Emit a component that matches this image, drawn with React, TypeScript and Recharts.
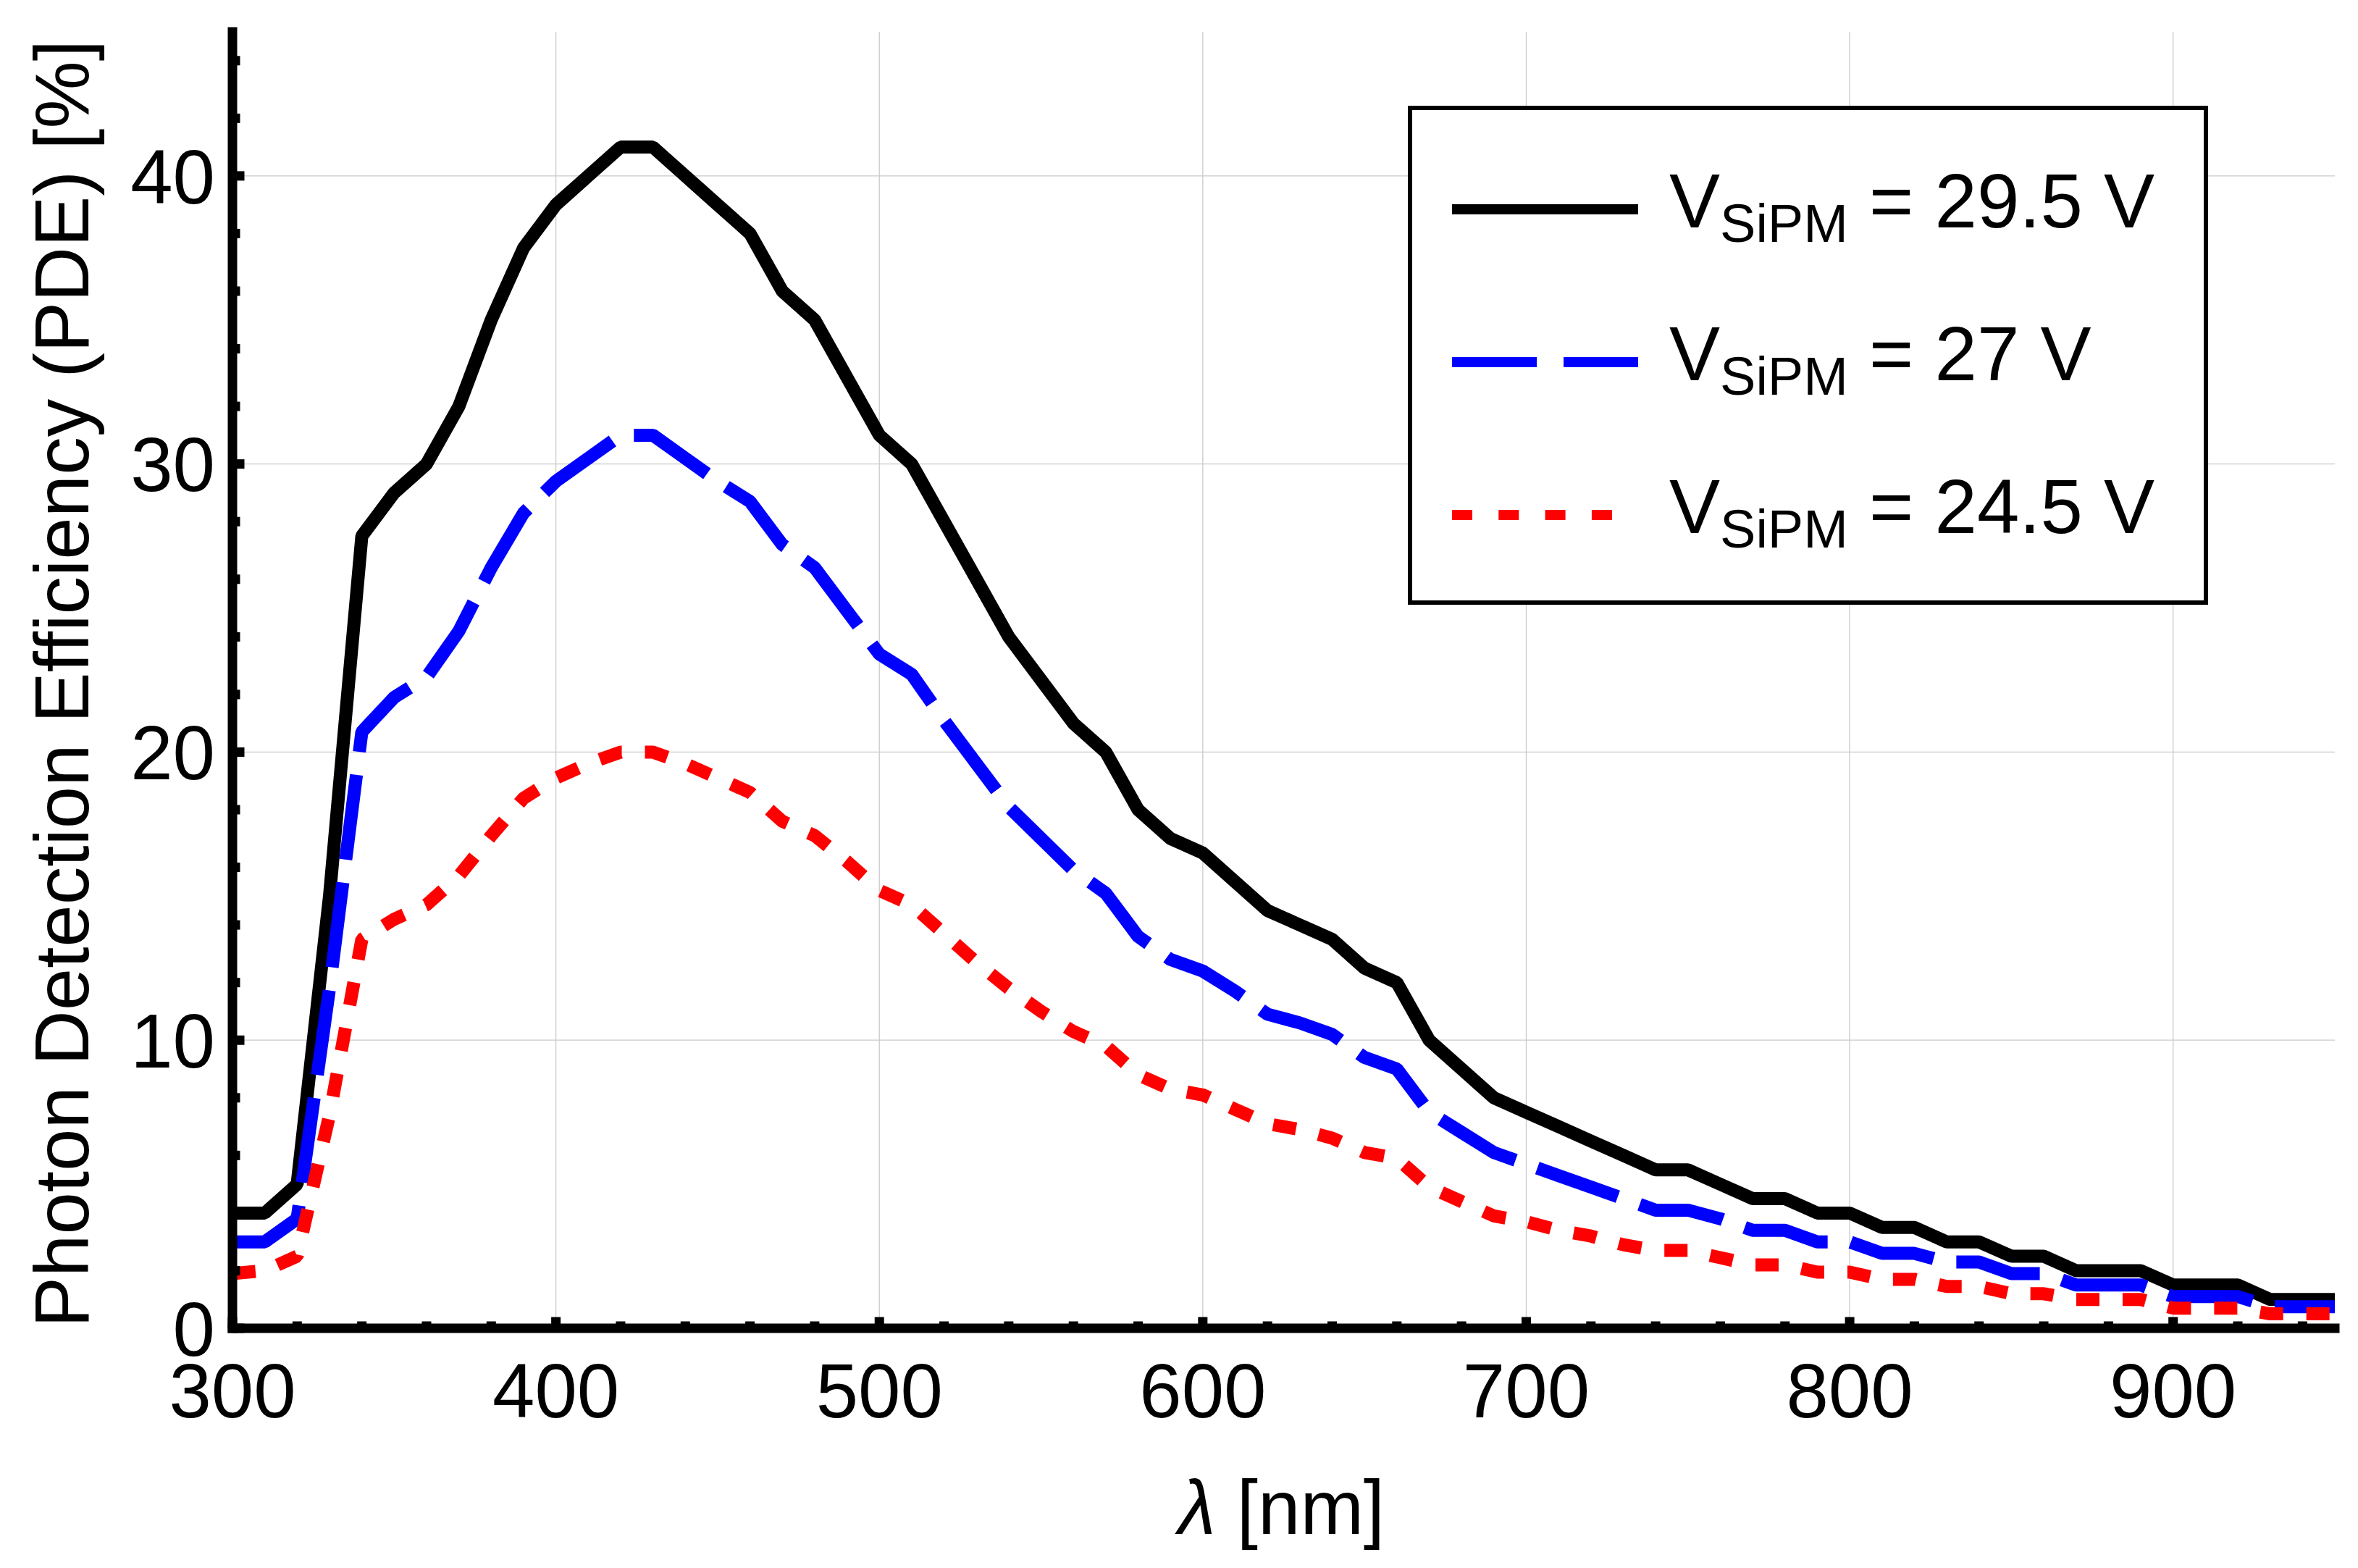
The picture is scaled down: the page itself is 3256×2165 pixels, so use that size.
import React from 'react';
import { LineChart, Line, XAxis, YAxis, ReferenceLine, Legend } from 'recharts';

// ---- data ----
const wavelengths = [
  300, 310, 320, 330, 340, 350, 360, 370, 380, 390,
  400, 410, 420, 430, 440, 450, 460, 470, 480, 490,
  500, 510, 520, 530, 540, 550, 560, 570, 580, 590,
  600, 610, 620, 630, 640, 650, 660, 670, 680, 690,
  700, 710, 720, 730, 740, 750, 760, 770, 780, 790,
  800, 810, 820, 830, 840, 850, 860, 870, 880, 890,
  900, 910, 920, 930, 940, 950,
];

// V_SiPM = 29.5 V
const pde295 = [
  4, 4, 5, 15, 27.5, 29, 30, 32, 35, 37.5,
  39, 40, 41, 41, 40, 39, 38, 36, 35, 33,
  31, 30, 28, 26, 24, 22.5, 21, 20, 18, 17,
  16.5, 15.5, 14.5, 14, 13.5, 12.5, 12, 10, 9, 8,
  7.5, 7, 6.5, 6, 5.5, 5.5, 5, 4.5, 4.5, 4,
  4, 3.5, 3.5, 3, 3, 2.5, 2.5, 2, 2, 2,
  1.5, 1.5, 1.5, 1, 1, 1,
];

// V_SiPM = 27 V
const pde27 = [
  3.0, 3.0, 3.8, 11.8, 20.7, 21.9, 22.6, 24.2, 26.4, 28.3,
  29.4, 30.2, 31.0, 31.0, 30.2, 29.4, 28.7, 27.2, 26.4, 24.9,
  23.4, 22.7, 21.1, 19.6, 18.1, 17.0, 15.9, 15.1, 13.6, 12.8,
  12.4, 11.7, 10.9, 10.6, 10.2, 9.4, 9.0, 7.5, 6.8, 6.1,
  5.7, 5.3, 4.9, 4.5, 4.1, 4.1, 3.8, 3.4, 3.4, 3.0,
  3.0, 2.6, 2.6, 2.3, 2.3, 1.9, 1.9, 1.5, 1.5, 1.5,
  1.1, 1.1, 1.1, 0.75, 0.75, 0.75,
];

// V_SiPM = 24.5 V
const pde245 = [
  1.9, 2.0, 2.5, 7.4, 13.5, 14.2, 14.7, 15.7, 17.1, 18.4,
  19.1, 19.6, 20.0, 20.0, 19.6, 19.1, 18.6, 17.6, 17.1, 16.2,
  15.2, 14.7, 13.7, 12.7, 11.8, 11.0, 10.3, 9.8, 8.8, 8.3,
  8.1, 7.6, 7.1, 6.9, 6.6, 6.1, 5.9, 4.9, 4.4, 3.9,
  3.7, 3.4, 3.2, 2.9, 2.7, 2.7, 2.45, 2.2, 2.2, 1.95,
  1.95, 1.7, 1.7, 1.45, 1.45, 1.2, 1.2, 1.0, 1.0, 1.0,
  0.7, 0.7, 0.7, 0.5, 0.5, 0.5,
];

const seriesKeys = ['v295', 'v27', 'v245'];
const seriesVoltages = ['29.5 V', '27 V', '24.5 V'];

const xTicks = [
  300, 320, 340, 360, 380, 400, 420, 440, 460, 480, 500, 520, 540, 560, 580,
  600, 620, 640, 660, 680, 700, 720, 740, 760, 780, 800, 820, 840, 860, 880,
  900, 920, 940,
];
const xMajorTicks = [300, 400, 500, 600, 700, 800, 900];
const yTicks = [
  0, 2, 4, 6, 8, 10, 12, 14, 16, 18, 20, 22, 24, 26, 28, 30, 32, 34, 36, 38,
  40, 42, 44,
];
const yMajorTicks = [0, 10, 20, 30, 40];
const xGridValues = [400, 500, 600, 700, 800, 900];
const yGridValues = [10, 20, 30, 40];

const data = wavelengths.map((wl, i) => ({
  wl,
  v295: pde295[i],
  v27: pde27[i],
  v245: pde245[i],
}));

// ---- styles ----
const FONT = "'Liberation Sans', Arial, Helvetica, sans-serif";
const FS = 105;
const AXIS_W = 13;
const LINE_W = 18;
const GRID = '#cacaca';

const plotDash: Record<string, string | undefined> = {
  v295: undefined,
  v27: '118 32',
  v245: '32 32',
};
const legendDash: Record<string, string | undefined> = {
  v295: undefined,
  v27: '117 37',
  v245: '28 36.3',
};

function XTick(props: any) {
  const { x, y, payload } = props;
  const v = payload.value;
  const major = xMajorTicks.includes(v);
  const h = major ? 9 : 3;
  return (
    <g>
      <rect x={x - AXIS_W / 2} y={y - AXIS_W / 2 - h} width={AXIS_W} height={h + AXIS_W / 2} fill="#000" />
      {major && (
        <text x={x} y={y + 123} textAnchor="middle" fontSize={FS} fontFamily={FONT} fill="#000">
          {v}
        </text>
      )}
    </g>
  );
}

function YTick(props: any) {
  const { x, y, payload } = props;
  const v = payload.value;
  const major = yMajorTicks.includes(v);
  const w = major ? 10 : 4;
  return (
    <g>
      <rect x={x} y={y - AXIS_W / 2} width={AXIS_W / 2 + w} height={AXIS_W} fill="#000" />
      {major && (
        <text x={x - 24} y={y} dy="0.36em" textAnchor="end" fontSize={FS} fontFamily={FONT} fill="#000">
          {v}
        </text>
      )}
    </g>
  );
}

function YTitle(props: any) {
  const vb = props.viewBox || { x: 0, y: 44, width: 321, height: 1790 };
  const cx = vb.x + 122;
  const cy = vb.y + vb.height / 2 + 5;
  return (
    <text
      x={cx}
      y={cy}
      transform={`rotate(-90 ${cx} ${cy})`}
      textAnchor="middle"
      fontSize={FS}
      fontFamily={FONT}
      fill="#000"
    >
      Photon Detection Efficiency (PDE) [%]
    </text>
  );
}

function XTitle(props: any) {
  const vb = props.viewBox || { x: 321, y: 1834, width: 2903, height: 331 };
  const cx = vb.x + vb.width / 2 - 3;
  const cy = vb.y + 284;
  return (
    <text x={cx} y={cy} textAnchor="middle" fontSize={FS} fontFamily={FONT} fill="#000">
      <tspan fontStyle="italic">λ</tspan>
      <tspan> [nm]</tspan>
    </text>
  );
}

function LegendBox(props: any) {
  const payload = [...(props.payload || [])].sort(
    (a: any, b: any) => seriesKeys.indexOf(a.dataKey) - seriesKeys.indexOf(b.dataKey),
  );
  return (
    <div
      style={{
        width: 1105,
        height: 689,
        border: '6px solid #000',
        boxSizing: 'border-box',
        background: '#fff',
        position: 'relative',
      }}
    >
      <svg width={1093} height={677} style={{ position: 'absolute', left: 0, top: 0 }}>
        {payload.map((entry: any, i: number) => {
          const cy = 137 + i * 211;
          const key = entry.dataKey as string;
          return (
            <g key={key}>
              <line
                x1={55}
                x2={312}
                y1={cy}
                y2={cy}
                stroke={entry.color}
                strokeWidth={14}
                strokeDasharray={legendDash[key]}
              />
              <text x={355} y={cy + 25} fontSize={FS} fontFamily={FONT} fill="#000">
                <tspan>V</tspan>
                <tspan dy={20} fontSize={74}>SiPM</tspan>
                <tspan dy={-20}>{` = ${entry.value}`}</tspan>
              </text>
            </g>
          );
        })}
      </svg>
    </div>
  );
}

export default function App() {
  return (
    <div style={{ position: 'absolute', left: 0, top: 0, width: 3256, height: 2165, background: '#fff' }}>
      <LineChart
        width={3256}
        height={2165}
        data={data}
        margin={{ top: 44, right: 32, left: 0, bottom: 0 }}
      >
        {xGridValues.map((v) => (
          <ReferenceLine key={`gx${v}`} x={v} stroke={GRID} strokeWidth={1.3} />
        ))}
        {yGridValues.map((v) => (
          <ReferenceLine key={`gy${v}`} y={v} stroke={GRID} strokeWidth={1.3} />
        ))}
        <XAxis
          dataKey="wl"
          type="number"
          domain={[300, 950]}
          ticks={xTicks}
          interval={0}
          height={331}
          tickSize={0}
          tickMargin={0}
          tickLine={false}
          axisLine={{ stroke: '#000', strokeWidth: AXIS_W, strokeLinecap: 'square' }}
          tick={XTick}
          label={{ content: XTitle }}
        />
        <YAxis
          type="number"
          domain={[0, 45]}
          ticks={yTicks}
          interval={0}
          width={321}
          tickSize={0}
          tickMargin={0}
          tickLine={false}
          axisLine={{ stroke: '#000', strokeWidth: AXIS_W, strokeLinecap: 'square' }}
          tick={YTick}
          label={{ content: YTitle }}
        />
        <Line
          type="linear"
          dataKey="v295"
          name={seriesVoltages[0]}
          stroke="#000000"
          strokeWidth={LINE_W}
          strokeDasharray={plotDash.v295}
          strokeLinejoin="bevel"
          strokeLinecap="butt"
          dot={false}
          activeDot={false}
          isAnimationActive={false}
        />
        <Line
          type="linear"
          dataKey="v27"
          name={seriesVoltages[1]}
          stroke="#0000ff"
          strokeWidth={LINE_W}
          strokeDasharray={plotDash.v27}
          strokeLinejoin="bevel"
          strokeLinecap="butt"
          dot={false}
          activeDot={false}
          isAnimationActive={false}
        />
        <Line
          type="linear"
          dataKey="v245"
          name={seriesVoltages[2]}
          stroke="#ff0000"
          strokeWidth={LINE_W}
          strokeDasharray={plotDash.v245}
          strokeLinejoin="bevel"
          strokeLinecap="butt"
          dot={false}
          activeDot={false}
          isAnimationActive={false}
        />
        <Legend
          layout="vertical"
          align="center"
          verticalAlign="middle"
          content={LegendBox}
          wrapperStyle={{ position: 'absolute', left: 1944, top: 146, width: 1105, height: 689 }}
        />
      </LineChart>
    </div>
  );
}
